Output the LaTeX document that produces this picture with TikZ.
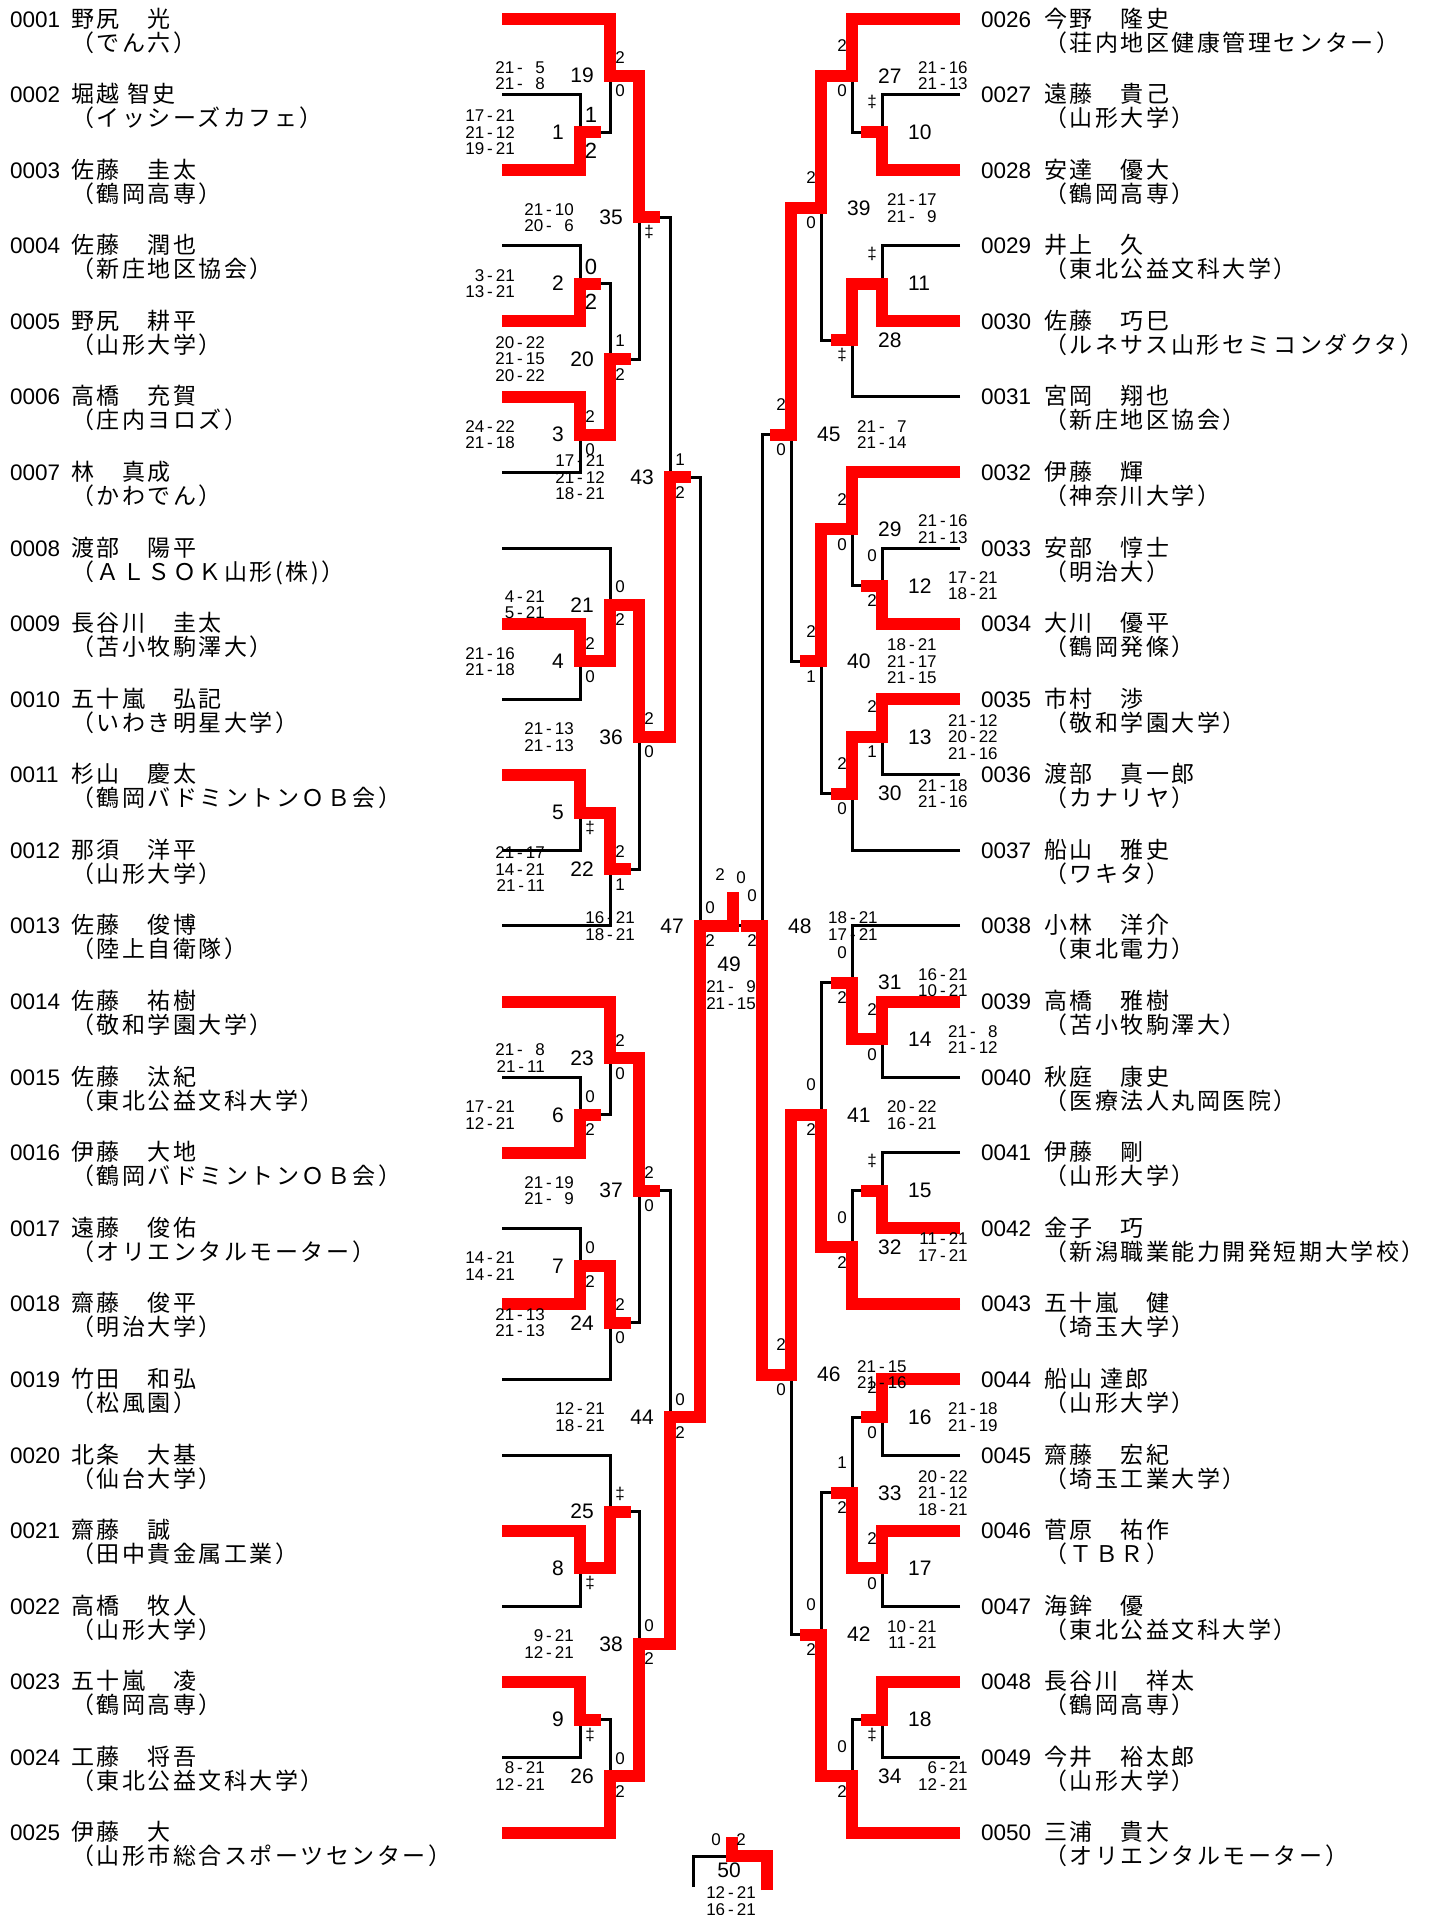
\documentclass[tikz,border=0pt]{standalone}
\usepackage{fontspec}
\setmainfont{Liberation Sans}
\newfontfamily\jp[LetterSpace=11]{Noto Sans CJK JP}
\newcommand\sdash{\kern3pt-\kern3pt}
\newcommand\pz{\hphantom{0}}
\tikzset{
  lose/.style={draw=black,line width=3pt},
  win/.style={draw=red,line width=12pt,line join=miter},
  pid/.style={anchor=base west,inner sep=0pt,font=\fontsize{22.5}{24}\selectfont},
  pnm/.style={anchor=base west,inner sep=0pt,font=\jp\fontsize{23}{24}\selectfont},
  mno/.style={inner sep=0pt,font=\fontsize{21}{22}\selectfont},
  cnt/.style={inner sep=0pt,font=\fontsize{17}{18}\selectfont},
  bigcnt/.style={inner sep=0pt,font=\fontsize{22}{22}\selectfont},
  sco/.style={inner sep=0pt,align=right,font=\fontsize{17}{16.5}\selectfont},
}
\begin{document}
\begin{tikzpicture}[x=1pt,y=-1pt]
\useasboundingbox (0,0) rectangle (1429,1915);

% players, left half
\foreach \n/\nm/\af in {1/野尻　光/でん六, 2/堀越 智史/イッシーズカフェ,
  3/佐藤　圭太/鶴岡高専, 4/佐藤　潤也/新庄地区協会, 5/野尻　耕平/山形大学,
  6/高橋　充賀/庄内ヨロズ, 7/林　真成/かわでん, 8/渡部　陽平/ＡＬＳＯＫ山形(株),
  9/長谷川　圭太/苫小牧駒澤大, 10/五十嵐　弘記/いわき明星大学,
  11/杉山　慶太/鶴岡バドミントンＯＢ会, 12/那須　洋平/山形大学,
  13/佐藤　俊博/陸上自衛隊, 14/佐藤　祐樹/敬和学園大学,
  15/佐藤　汰紀/東北公益文科大学, 16/伊藤　大地/鶴岡バドミントンＯＢ会,
  17/遠藤　俊佑/オリエンタルモーター, 18/齋藤　俊平/明治大学,
  19/竹田　和弘/松風園, 20/北条　大基/仙台大学, 21/齋藤　誠/田中貴金属工業,
  22/高橋　牧人/山形大学, 23/五十嵐　凌/鶴岡高専,
  24/工藤　将吾/東北公益文科大学, 25/伊藤　大/山形市総合スポーツセンター}{
  \pgfmathsetmacro\yy{19+75.58*(\n-1)}
  \coordinate (p\n) at (502,\yy);
  \node[pid] (id\n) at (10,\yy+8) {\ifnum\n<10 000\n\else 00\n\fi};
  \node[pnm] (nm\n) at (71,\yy+8) {\nm};
  \node[pnm] (af\n) at (71,\yy+32) {（\af）};
}

% players, right half
\foreach \n/\nm/\af in {26/今野　隆史/荘内地区健康管理センター,
  27/遠藤　貴己/山形大学, 28/安達　優大/鶴岡高専, 29/井上　久/東北公益文科大学,
  30/佐藤　巧巳/ルネサス山形セミコンダクタ, 31/宮岡　翔也/新庄地区協会,
  32/伊藤　輝/神奈川大学, 33/安部　惇士/明治大, 34/大川　優平/鶴岡発條,
  35/市村　渉/敬和学園大学, 36/渡部　真一郎/カナリヤ, 37/船山　雅史/ワキタ,
  38/小林　洋介/東北電力, 39/高橋　雅樹/苫小牧駒澤大,
  40/秋庭　康史/医療法人丸岡医院, 41/伊藤　剛/山形大学,
  42/金子　巧/新潟職業能力開発短期大学校, 43/五十嵐　健/埼玉大学,
  44/船山 達郎/山形大学, 45/齋藤　宏紀/埼玉工業大学, 46/菅原　祐作/ＴＢＲ,
  47/海鉾　優/東北公益文科大学, 48/長谷川　祥太/鶴岡高専,
  49/今井　裕太郎/山形大学, 50/三浦　貴大/オリエンタルモーター}{
  \pgfmathsetmacro\yy{19+75.58*(\n-26)}
  \coordinate (p\n) at (960,\yy);
  \node[pid] (id\n) at (981,\yy+8) {00\n};
  \node[pnm] (nm\n) at (1044,\yy+8) {\nm};
  \node[pnm] (af\n) at (1044,\yy+32) {（\af）};
}

% match junctions
\coordinate (m1) at (580,132.37);  \coordinate (m19) at (610,75.69);
\coordinate (m2) at (580,283.53);  \coordinate (m3) at (580,434.69);
\coordinate (m20) at (610,359.11); \coordinate (m35) at (639,217.40);
\coordinate (m4) at (580,661.43);  \coordinate (m21) at (610,604.75);
\coordinate (m5) at (580,812.59);  \coordinate (m22) at (610,869.28);
\coordinate (m36) at (639,737.01); \coordinate (m43) at (670,477.21);
\coordinate (m6) at (580,1114.91); \coordinate (m23) at (610,1058.23);
\coordinate (m7) at (580,1266.07); \coordinate (m24) at (610,1322.76);
\coordinate (m37) at (639,1190.49);
\coordinate (m8) at (580,1568.39); \coordinate (m25) at (610,1511.71);
\coordinate (m9) at (580,1719.55); \coordinate (m26) at (610,1776.24);
\coordinate (m38) at (639,1643.97); \coordinate (m44) at (670,1417.23);
\coordinate (m47) at (700,925.96);

\coordinate (m10) at (882,132.37); \coordinate (m27) at (852,75.69);
\coordinate (m11) at (882,283.53); \coordinate (m28) at (852,340.22);
\coordinate (m39) at (821,207.95);
\coordinate (m12) at (882,585.85); \coordinate (m29) at (852,529.17);
\coordinate (m13) at (882,737.01); \coordinate (m30) at (852,793.70);
\coordinate (m40) at (821,661.43); \coordinate (m45) at (791,434.69);
\coordinate (m14) at (882,1039.33); \coordinate (m31) at (852,982.64);
\coordinate (m15) at (882,1190.49); \coordinate (m32) at (852,1247.17);
\coordinate (m41) at (821,1114.91);
\coordinate (m16) at (882,1417.23); \coordinate (m17) at (882,1568.39);
\coordinate (m33) at (852,1492.81);
\coordinate (m18) at (882,1719.55); \coordinate (m34) at (852,1776.24);
\coordinate (m42) at (821,1634.52); \coordinate (m46) at (791,1374.72);
\coordinate (m48) at (762,925.96);

\coordinate (c49) at (733,892);
\coordinate (f50a) at (693,1887);
\coordinate (f50b) at (767,1890);
\coordinate (j50) at (732,1856);
\coordinate (c50) at (732,1837);

% bracket lines
\foreach \a/\b/\m in {p2/p3/1, p1/m1/19, p4/p5/2, p6/p7/3, m2/m3/20,
  m19/m20/35, p9/p10/4, p8/m4/21, p11/p12/5, m5/p13/22, m21/m22/36,
  m35/m36/43, p15/p16/6, p14/m6/23, p17/p18/7, m7/p19/24, m23/m24/37,
  p21/p22/8, p20/m8/25, p23/p24/9, m9/p25/26, m25/m26/38, m37/m38/44,
  m43/m44/47, p27/p28/10, p26/m10/27, p29/p30/11, m11/p31/28, m27/m28/39,
  p33/p34/12, p32/m12/29, p35/p36/13, m13/p37/30, m29/m30/40, m39/m40/45,
  p39/p40/14, p38/m14/31, p41/p42/15, m15/p43/32, m31/m32/41, p44/p45/16,
  p46/p47/17, m16/m17/33, p48/p49/18, m18/p50/34, m33/m34/42, m41/m42/46,
  m45/m46/48}
  \draw[lose] (\a) -| (m\m) (\b) -| (m\m);
\draw[lose] (m47) -- (m48);
\draw[lose] (f50a) |- (f50b |- j50) -- (f50b);

% winners
\foreach \w/\m in {p3/1, p1/19, p5/2, p6/3, m3/20, m19/35, p9/4, m4/21,
  p11/5, m5/22, m21/36, m36/43, p16/6, p14/23, p18/7, m7/24, m23/37,
  p21/8, m8/25, p23/9, p25/26, m26/38, m38/44}
  \draw[win] (\w) -| (m\m) -- ++(21,0);
\foreach \w/\m in {p28/10, p26/27, p30/11, m11/28, m27/39, p34/12, p32/29,
  p35/13, m13/30, m29/40, m39/45, p39/14, m14/31, p42/15, p43/32, m32/41,
  p44/16, p46/17, m17/33, p48/18, p50/34, m34/42, m41/46, m46/48}
  \draw[win] (\w) -| (m\m) -- ++(-21,0);
\draw[win] (m44) -| (m47) -| (c49);
\draw[win] (f50b) |- (j50) -- (c50);

% match numbers
\foreach \m in {1,19,2,3,20,35,4,21,5,22,36,43,6,23,7,24,37,8,25,9,26,38,44,47}
  \node[mno,anchor=east] (lb\m) at ([xshift=-16]m\m) {\m};
\foreach \m in {10,27,11,28,39,12,29,13,30,40,45,14,31,15,32,41,16,17,33,18,34,42,46,48}
  \node[mno,anchor=west] (lb\m) at ([xshift=26]m\m) {\m};
\node[mno] (lb49) at (729,964) {49};
\node[mno] (lb50) at (729,1870) {50};

% games won
\foreach \m/\a/\b in {19/2/0, 3/2/0, 20/1/2, 4/2/0, 21/0/2, 22/2/1, 36/2/0,
  43/1/2, 6/0/2, 23/2/0, 7/0/2, 24/2/0, 37/2/0, 26/0/2, 38/0/2, 44/0/2, 47/0/2}{
  \node[cnt] (ct\m) at ([shift={(10,-18)}]m\m) {\a};
  \node[cnt] (cb\m) at ([shift={(10,15)}]m\m) {\b};
}
\foreach \m/\a/\b in {1/1/2, 2/0/2}{
  \node[bigcnt] (ct\m) at ([shift={(11,-17)}]m\m) {\a};
  \node[bigcnt] (cb\m) at ([shift={(11,18)}]m\m) {\b};
}
\foreach \m in {35,5,8,9}
  \node[cnt] (cb\m) at ([shift={(10,15)}]m\m) {‡};
\node[cnt] (ct25) at ([shift={(10,-18)}]m25) {‡};
\foreach \m/\a/\b in {27/2/0, 39/2/0, 12/0/2, 29/2/0, 13/2/1, 30/2/0, 40/2/1,
  45/2/0, 14/2/0, 31/0/2, 32/0/2, 41/0/2, 16/2/0, 17/2/0, 33/1/2, 34/0/2,
  42/0/2, 46/2/0, 48/0/2}{
  \node[cnt] (ct\m) at ([shift={(-10,-30)}]m\m) {\a};
  \node[cnt] (cb\m) at ([shift={(-10,15)}]m\m) {\b};
}
\foreach \m in {10,11,15}
  \node[cnt] (ct\m) at ([shift={(-10,-30)}]m\m) {‡};
\foreach \m in {28,18}
  \node[cnt] (cb\m) at ([shift={(-10,15)}]m\m) {‡};
\node[cnt] (ct49) at (720,875) {2};
\node[cnt] (cb49) at (741,878) {0};
\node[cnt] (ct50) at (716,1840) {0};
\node[cnt] (cb50) at (741,1840) {2};

% scores
\foreach \m/\s in {1/17\sdash21\\21\sdash12\\19\sdash21,
  19/21\sdash\pz5\\21\sdash\pz8, 2/3\sdash21\\13\sdash21,
  3/24\sdash22\\21\sdash18, 20/20\sdash22\\21\sdash15\\20\sdash22,
  35/21\sdash10\\20\sdash\pz6, 4/21\sdash16\\21\sdash18,
  21/4\sdash21\\5\sdash21, 22/21\sdash17\\14\sdash21\\21\sdash11,
  36/21\sdash13\\21\sdash13, 43/17\sdash21\\21\sdash12\\18\sdash21,
  6/17\sdash21\\12\sdash21, 23/21\sdash\pz8\\21\sdash11,
  7/14\sdash21\\14\sdash21, 24/21\sdash13\\21\sdash13,
  37/21\sdash19\\21\sdash\pz9, 26/8\sdash21\\12\sdash21,
  38/9\sdash21\\12\sdash21, 44/12\sdash21\\18\sdash21,
  47/16\sdash21\\18\sdash21}
  \node[sco,anchor=east] (sc\m) at ([xshift=-65]m\m) {\s};
\foreach \m/\s in {27/21\sdash16\\21\sdash13, 39/21\sdash17\\21\sdash\pz9,
  45/21\sdash\pz7\\21\sdash14, 12/17\sdash21\\18\sdash21,
  29/21\sdash16\\21\sdash13, 13/21\sdash12\\20\sdash22\\21\sdash16,
  30/21\sdash18\\21\sdash16, 40/18\sdash21\\21\sdash17\\21\sdash15,
  14/21\sdash\pz8\\21\sdash12, 31/16\sdash21\\10\sdash21,
  32/11\sdash21\\17\sdash21, 41/20\sdash22\\16\sdash21,
  16/21\sdash18\\21\sdash19, 33/20\sdash22\\21\sdash12\\18\sdash21,
  46/21\sdash15\\21\sdash16, 34/6\sdash21\\12\sdash21,
  42/10\sdash21\\11\sdash21, 48/18\sdash21\\17\sdash21}
  \node[sco,anchor=west] (sc\m) at ([xshift=66]m\m) {\s};
\node[sco] (sc49) at (731,995) {21\sdash\pz9\\21\sdash15};
\node[sco] (sc50) at (731,1901) {12\sdash21\\16\sdash21};
\end{tikzpicture}
\end{document}
